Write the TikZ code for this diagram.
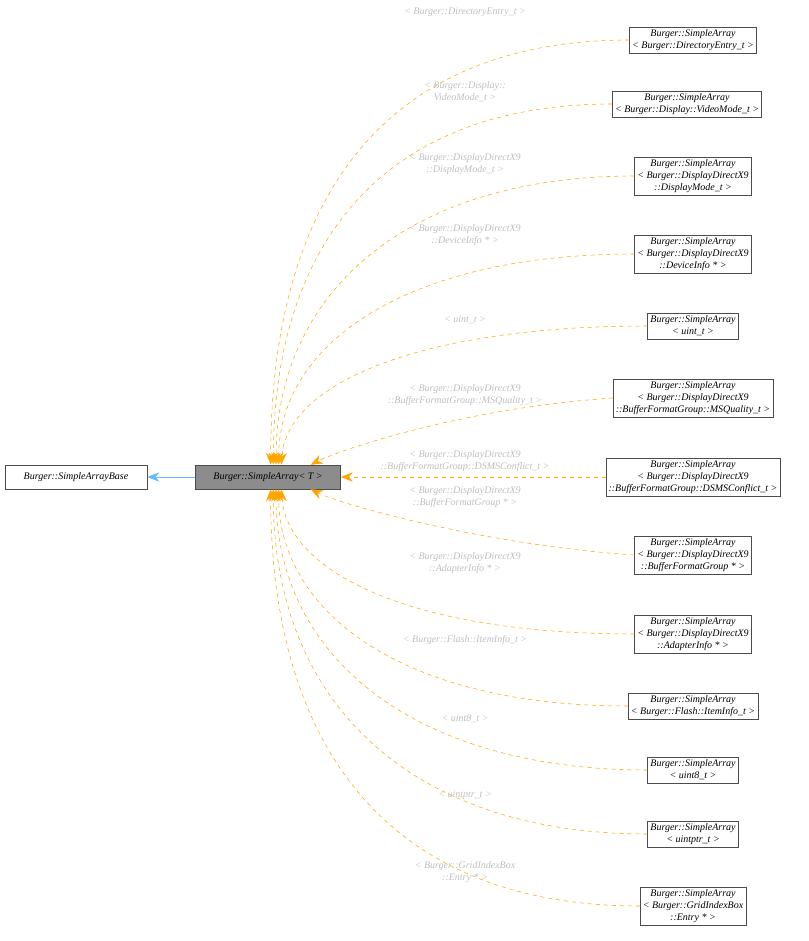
\documentclass[tikz,border=0pt]{standalone}
\usepackage{fontspec}
\setmainfont{Liberation Serif}
\usetikzlibrary{arrows.meta}
\definecolor{edgeorange}{RGB}{255,165,0}
\definecolor{labelgray}{RGB}{190,190,190}
\definecolor{inhblue}{RGB}{99,184,255}
\begin{document}
\begin{tikzpicture}[x=0.75pt,y=-0.75pt,
	cls/.style={draw=black!70,fill=white,font=\itshape\fontsize{7.5}{9}\selectfont,align=center,inner sep=2pt},
	lbl/.style={text=labelgray,font=\itshape\fontsize{7.5}{9}\selectfont,align=center,inner sep=0pt},
	tmpl/.style={edgeorange,dashed,-{Stealth[length=9pt,width=7pt]}},
	]
	\useasboundingbox (0,0) rectangle (808,941);

	% classes
	\node [cls,minimum width=142*0.75pt,minimum height=18pt] (base) at (76,477) {Burger::SimpleArrayBase};
	\node [cls,fill=black!45,minimum width=145*0.75pt,minimum height=18pt] (tmpl) at (268,477) {Burger::SimpleArray< T >};

	\node [cls] (r1) at (693,40) {Burger::SimpleArray\\< Burger::DirectoryEntry\_t >};
	\node [cls] (r2) at (687,104) {Burger::SimpleArray\\< Burger::Display::VideoMode\_t >};
	\node [cls] (r3) at (693,176) {Burger::SimpleArray\\< Burger::DisplayDirectX9\\::DisplayMode\_t >};
	\node [cls] (r4) at (693,254) {Burger::SimpleArray\\< Burger::DisplayDirectX9\\::DeviceInfo * >};
	\node [cls] (r5) at (693,326) {Burger::SimpleArray\\< uint\_t >};
	\node [cls] (r6) at (693,398) {Burger::SimpleArray\\< Burger::DisplayDirectX9\\::BufferFormatGroup::MSQuality\_t >};
	\node [cls] (r7) at (693,477) {Burger::SimpleArray\\< Burger::DisplayDirectX9\\::BufferFormatGroup::DSMSConflict\_t >};
	\node [cls] (r8) at (693,555) {Burger::SimpleArray\\< Burger::DisplayDirectX9\\::BufferFormatGroup * >};
	\node [cls] (r9) at (693,634) {Burger::SimpleArray\\< Burger::DisplayDirectX9\\::AdapterInfo * >};
	\node [cls] (r10) at (693,706) {Burger::SimpleArray\\< Burger::Flash::ItemInfo\_t >};
	\node [cls] (r11) at (693,770) {Burger::SimpleArray\\< uint8\_t >};
	\node [cls] (r12) at (693,834) {Burger::SimpleArray\\< uintptr\_t >};
	\node [cls] (r13) at (693,906) {Burger::SimpleArray\\< Burger::GridIndexBox\\::Entry * >};

	% inheritance
	\draw [inhblue,-{Stealth[length=9pt,width=7pt]}] (tmpl) -- (base);

	% template instances
	\draw [tmpl] (r1.west) .. controls +(-250,0) and +(0,-260) .. ([xshift=2pt]tmpl.north);
	\draw [tmpl] (r2.west) .. controls +(-230,0) and +(0,-220) .. ([xshift=4pt]tmpl.north);
	\draw [tmpl] (r3.west) .. controls +(-230,0) and +(0,-170) .. ([xshift=6pt]tmpl.north);
	\draw [tmpl] (r4.west) .. controls +(-230,0) and +(0,-120) .. ([xshift=8pt]tmpl.north);
	\draw [tmpl] (r5.west) .. controls +(-230,0) and +(5,-80) .. ([xshift=10pt]tmpl.north);
	\draw [tmpl] (r6.west) .. controls +(-150,10) and +(30,-15) .. ([xshift=32pt]tmpl.north);
	\draw [tmpl] (r7) -- (tmpl);
	\draw [tmpl] (r8.west) .. controls +(-150,-10) and +(30,15) .. ([xshift=32pt]tmpl.south);
	\draw [tmpl] (r9.west) .. controls +(-230,0) and +(5,80) .. ([xshift=10pt]tmpl.south);
	\draw [tmpl] (r10.west) .. controls +(-230,0) and +(0,120) .. ([xshift=8pt]tmpl.south);
	\draw [tmpl] (r11.west) .. controls +(-230,0) and +(0,170) .. ([xshift=6pt]tmpl.south);
	\draw [tmpl] (r12.west) .. controls +(-230,0) and +(0,220) .. ([xshift=4pt]tmpl.south);
	\draw [tmpl] (r13.west) .. controls +(-250,0) and +(0,260) .. ([xshift=2pt]tmpl.south);

	% labels
	\node [lbl] (l1) at (465,12) {< Burger::DirectoryEntry\_t >};
	\node [lbl] (l2) at (465,92) {< Burger::Display::\\VideoMode\_t >};
	\node [lbl] (l3) at (465,164) {< Burger::DisplayDirectX9\\::DisplayMode\_t >};
	\node [lbl] (l4) at (465,235) {< Burger::DisplayDirectX9\\::DeviceInfo * >};
	\node [lbl] (l5) at (465,320) {< uint\_t >};
	\node [lbl] (l6) at (465,395) {< Burger::DisplayDirectX9\\::BufferFormatGroup::MSQuality\_t >};
	\node [lbl] (l7) at (465,461) {< Burger::DisplayDirectX9\\::BufferFormatGroup::DSMSConflict\_t >};
	\node [lbl] (l8) at (465,497) {< Burger::DisplayDirectX9\\::BufferFormatGroup * >};
	\node [lbl] (l9) at (465,563) {< Burger::DisplayDirectX9\\::AdapterInfo * >};
	\node [lbl] (l10) at (465,640) {< Burger::Flash::ItemInfo\_t >};
	\node [lbl] (l11) at (465,719) {< uint8\_t >};
	\node [lbl] (l12) at (465,795) {< uintptr\_t >};
	\node [lbl] (l13) at (465,872) {< Burger::GridIndexBox\\::Entry * >};
\end{tikzpicture}
\end{document}
